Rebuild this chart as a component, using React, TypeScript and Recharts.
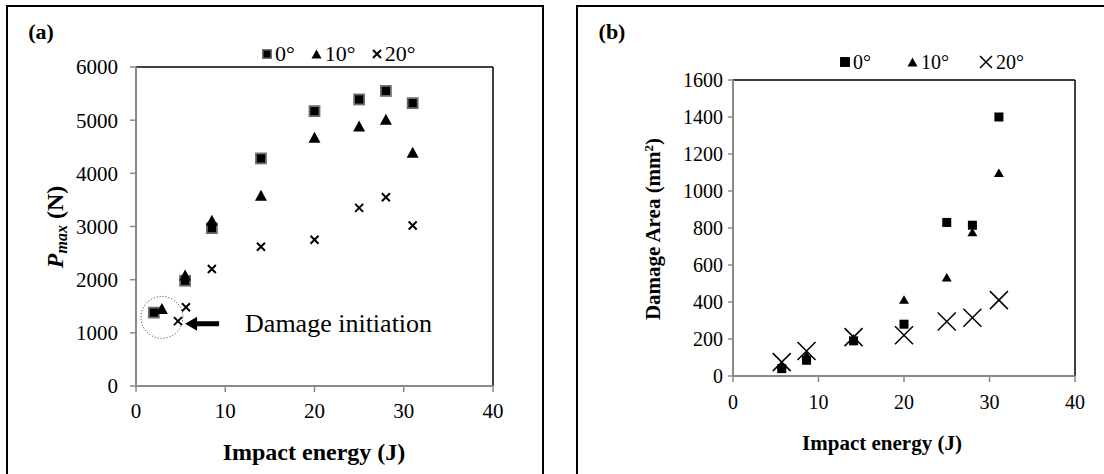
import React from 'react';
import {
  ScatterChart,
  Scatter,
  XAxis,
  YAxis,
  ReferenceLine,
  ReferenceDot,
} from 'recharts';

// panel (a): peak force vs impact energy
const energyA0 = [2, 5.5, 8.5, 14, 20, 25, 28, 31];
const pmax0 = [1380, 1980, 2970, 4280, 5170, 5390, 5550, 5320];
const energyA10 = [2.9, 5.5, 8.5, 14, 20, 25, 28, 31];
const pmax10 = [1440, 2070, 3100, 3570, 4660, 4870, 5000, 4380];
const energyA20 = [4.7, 5.6, 8.5, 14, 20, 25, 28, 31];
const pmax20 = [1220, 1480, 2200, 2620, 2750, 3350, 3550, 3020];

// panel (b): damage area vs impact energy
const energyB = [5.7, 8.6, 14.1, 20, 25, 28, 31.1];
const area0 = [40, 85, 190, 280, 830, 815, 1400];
const area10 = [55, 110, 200, 410, 530, 775, 1095];
const area20 = [75, 135, 210, 220, 295, 315, 410];

const xTicks = [0, 10, 20, 30, 40];
const yTicksA = [0, 1000, 2000, 3000, 4000, 5000, 6000];
const yTicksB = [0, 200, 400, 600, 800, 1000, 1200, 1400, 1600];
const legendLabels = ['0°', '10°', '20°'];

const SERIF = "'Liberation Serif', 'Times New Roman', serif";
const AXIS_GRAY = '#8a8a8a';

const zip = (xs: number[], ys: number[]) => xs.map((x, i) => ({ x, y: ys[i] }));

// marker shapes
const SquareA = ({ cx, cy }: any) => (
  <rect x={cx - 5} y={cy - 5} width={10} height={10} fill="#000" stroke="#6e6e6e" strokeWidth={1.8} />
);
const TriangleA = ({ cx, cy }: any) => (
  <path d={`M${cx},${cy - 6.5} L${cx + 6},${cy + 4.5} L${cx - 6},${cy + 4.5} Z`} fill="#000" />
);
const CrossA = ({ cx, cy }: any) => (
  <path d={`M${cx - 4},${cy - 4} L${cx + 4},${cy + 4} M${cx + 4},${cy - 4} L${cx - 4},${cy + 4}`} stroke="#000" strokeWidth={2} />
);
const SquareB = ({ cx, cy }: any) => (
  <rect x={cx - 4.5} y={cy - 4.5} width={9} height={9} fill="#000" />
);
const TriangleB = ({ cx, cy }: any) => (
  <path d={`M${cx},${cy - 5} L${cx + 5},${cy + 3.5} L${cx - 5},${cy + 3.5} Z`} fill="#000" />
);
const CrossB = ({ cx, cy }: any) => (
  <path d={`M${cx - 9},${cy - 9} L${cx + 9},${cy + 9} M${cx + 9},${cy - 9} L${cx - 9},${cy + 9}`} stroke="#000" strokeWidth={1.5} />
);

// arrow + text for the damage initiation note
const ArrowNote = ({ cx, cy }: any) => (
  <g>
    <path d={`M${cx},${cy} L${cx + 12},${cy - 7} L${cx + 12},${cy - 2.5} L${cx + 34},${cy - 2.5} L${cx + 34},${cy + 2.5} L${cx + 12},${cy + 2.5} L${cx + 12},${cy + 7} Z`} fill="#000" />
    <text x={cx + 60} y={cy + 8} style={{ fontFamily: SERIF, fontSize: 26 }} fill="#000">Damage initiation</text>
  </g>
);

const legendIcon = (kind: number, big: boolean) => {
  if (kind === 0) {
    return (
      <svg width={10} height={10}>
        <rect x={0.8} y={0.8} width={8.4} height={8.4} fill="#000" stroke={big ? '#000' : '#6e6e6e'} strokeWidth={1.5} />
      </svg>
    );
  }
  if (kind === 1) {
    return (
      <svg width={11} height={10}>
        <path d="M5.5,0.5 L10.5,9.5 L0.5,9.5 Z" fill="#000" />
      </svg>
    );
  }
  const s = big ? 14 : 10;
  return (
    <svg width={s} height={s}>
      <path d={`M1,1 L${s - 1},${s - 1} M${s - 1},1 L1,${s - 1}`} stroke="#000" strokeWidth={big ? 1.5 : 2} />
    </svg>
  );
};

const LegendRow = ({ big, gaps, fontSize, left, top }: any) => (
  <div style={{ position: 'absolute', left, top, display: 'flex', alignItems: 'center', fontFamily: SERIF, fontSize, lineHeight: 1 }}>
    {legendLabels.map((l, i) => (
      <div key={l} style={{ display: 'flex', alignItems: 'center', marginRight: i < 2 ? gaps[i] : 0 }}>
        {legendIcon(i, big)}
        <span style={{ marginLeft: 3 }}>{l}</span>
      </div>
    ))}
  </div>
);

const tickStyleA = { fill: '#000', fontSize: 21, fontFamily: SERIF, style: { fontFamily: SERIF } };
const tickStyleB = { fill: '#000', fontSize: 20, fontFamily: SERIF, style: { fontFamily: SERIF } };

const abs = (left: number, top: number, extra: React.CSSProperties = {}): React.CSSProperties => ({
  position: 'absolute', left, top, transform: 'translate(-50%, -50%)', whiteSpace: 'nowrap',
  fontFamily: SERIF, fontWeight: 'bold', lineHeight: 1, ...extra,
});

export default function App() {
  return (
    <div style={{ position: 'absolute', left: 0, top: 0, width: 1104, height: 474, overflow: 'hidden', background: '#fff', fontFamily: SERIF }}>
      {/* panel frames */}
      <div style={{ position: 'absolute', left: 6, top: 5, width: 538, height: 490, border: '2px solid #000', boxSizing: 'border-box' }} />
      <div style={{ position: 'absolute', left: 576, top: 5, width: 540, height: 490, border: '2px solid #000', boxSizing: 'border-box' }} />

      <div style={{ position: 'absolute', left: 0, top: 0 }}>
        <ScatterChart width={550} height={474} margin={{ top: 67, right: 57, bottom: 48, left: 76 }} style={{ fontFamily: SERIF }}>
          <XAxis type="number" dataKey="x" domain={[0, 40]} ticks={xTicks} height={40}
            axisLine={{ stroke: AXIS_GRAY, strokeWidth: 2 }} tickLine={{ stroke: AXIS_GRAY, strokeWidth: 1.5 }}
            tickSize={6} tickMargin={11} tick={tickStyleA} />
          <YAxis type="number" dataKey="y" domain={[0, 6000]} ticks={yTicksA} width={60}
            axisLine={{ stroke: AXIS_GRAY, strokeWidth: 2 }} tickLine={{ stroke: AXIS_GRAY, strokeWidth: 1.5 }}
            tickSize={6} tickMargin={12} tick={tickStyleA} />
          <ReferenceLine y={6000} stroke="#000" strokeWidth={1.5} />
          <ReferenceLine x={40} stroke="#000" strokeWidth={1.5} />
          <ReferenceDot x={2.9} y={1290} r={21} fill="none" stroke="#333" strokeWidth={1} strokeDasharray="1 2" />
          <ReferenceDot x={5.5} y={1172} shape={ArrowNote} />
          <Scatter name="0°" data={zip(energyA0, pmax0)} shape={SquareA} isAnimationActive={false} />
          <Scatter name="10°" data={zip(energyA10, pmax10)} shape={TriangleA} isAnimationActive={false} />
          <Scatter name="20°" data={zip(energyA20, pmax20)} shape={CrossA} isAnimationActive={false} />
        </ScatterChart>
      </div>

      <div style={{ position: 'absolute', left: 560, top: 0 }}>
        <ScatterChart width={544} height={474} margin={{ top: 80, right: 29, bottom: 58, left: 113 }} style={{ fontFamily: SERIF }}>
          <XAxis type="number" dataKey="x" domain={[0, 40]} ticks={xTicks} height={40}
            axisLine={{ stroke: AXIS_GRAY, strokeWidth: 2 }} tickLine={{ stroke: AXIS_GRAY, strokeWidth: 1.5 }}
            tickSize={6} tickMargin={13} tick={tickStyleB} />
          <YAxis type="number" dataKey="y" domain={[0, 1600]} ticks={yTicksB} width={60}
            axisLine={{ stroke: AXIS_GRAY, strokeWidth: 2 }} tickLine={{ stroke: AXIS_GRAY, strokeWidth: 1.5 }}
            tickSize={5} tickMargin={5} tick={tickStyleB} />
          <ReferenceLine y={1600} stroke="#000" strokeWidth={1.5} />
          <ReferenceLine x={40} stroke="#000" strokeWidth={1.5} />
          <Scatter name="0°" data={zip(energyB, area0)} shape={SquareB} isAnimationActive={false} />
          <Scatter name="10°" data={zip(energyB, area10)} shape={TriangleB} isAnimationActive={false} />
          <Scatter name="20°" data={zip(energyB, area20)} shape={CrossB} isAnimationActive={false} />
        </ScatterChart>
      </div>

      <LegendRow big={false} gaps={[16, 16]} fontSize={22} left={262} top={43} />
      <LegendRow big={true} gaps={[36, 30]} fontSize={20} left={840} top={52} />

      {/* panel tags and axis titles */}
      <div style={abs(41, 32, { fontSize: 22 })}>(a)</div>
      <div style={abs(612, 32, { fontSize: 22 })}>(b)</div>
      <div style={abs(314, 452, { fontSize: 24 })}>Impact energy (J)</div>
      <div style={abs(882, 443, { fontSize: 21 })}>Impact energy (J)</div>
      <div style={abs(56, 227, { fontSize: 24, transform: 'translate(-50%, -50%) rotate(-90deg)' })}>
        <i>P</i><sub style={{ fontSize: 16, fontStyle: 'italic', verticalAlign: '-0.25em' }}>max</sub> (N)
      </div>
      <div style={abs(653, 229, { fontSize: 21, transform: 'translate(-50%, -50%) rotate(-90deg)' })}>
        Damage Area (mm<sup style={{ fontSize: 13, verticalAlign: '0.5em' }}>2</sup>)
      </div>
    </div>
  );
}
